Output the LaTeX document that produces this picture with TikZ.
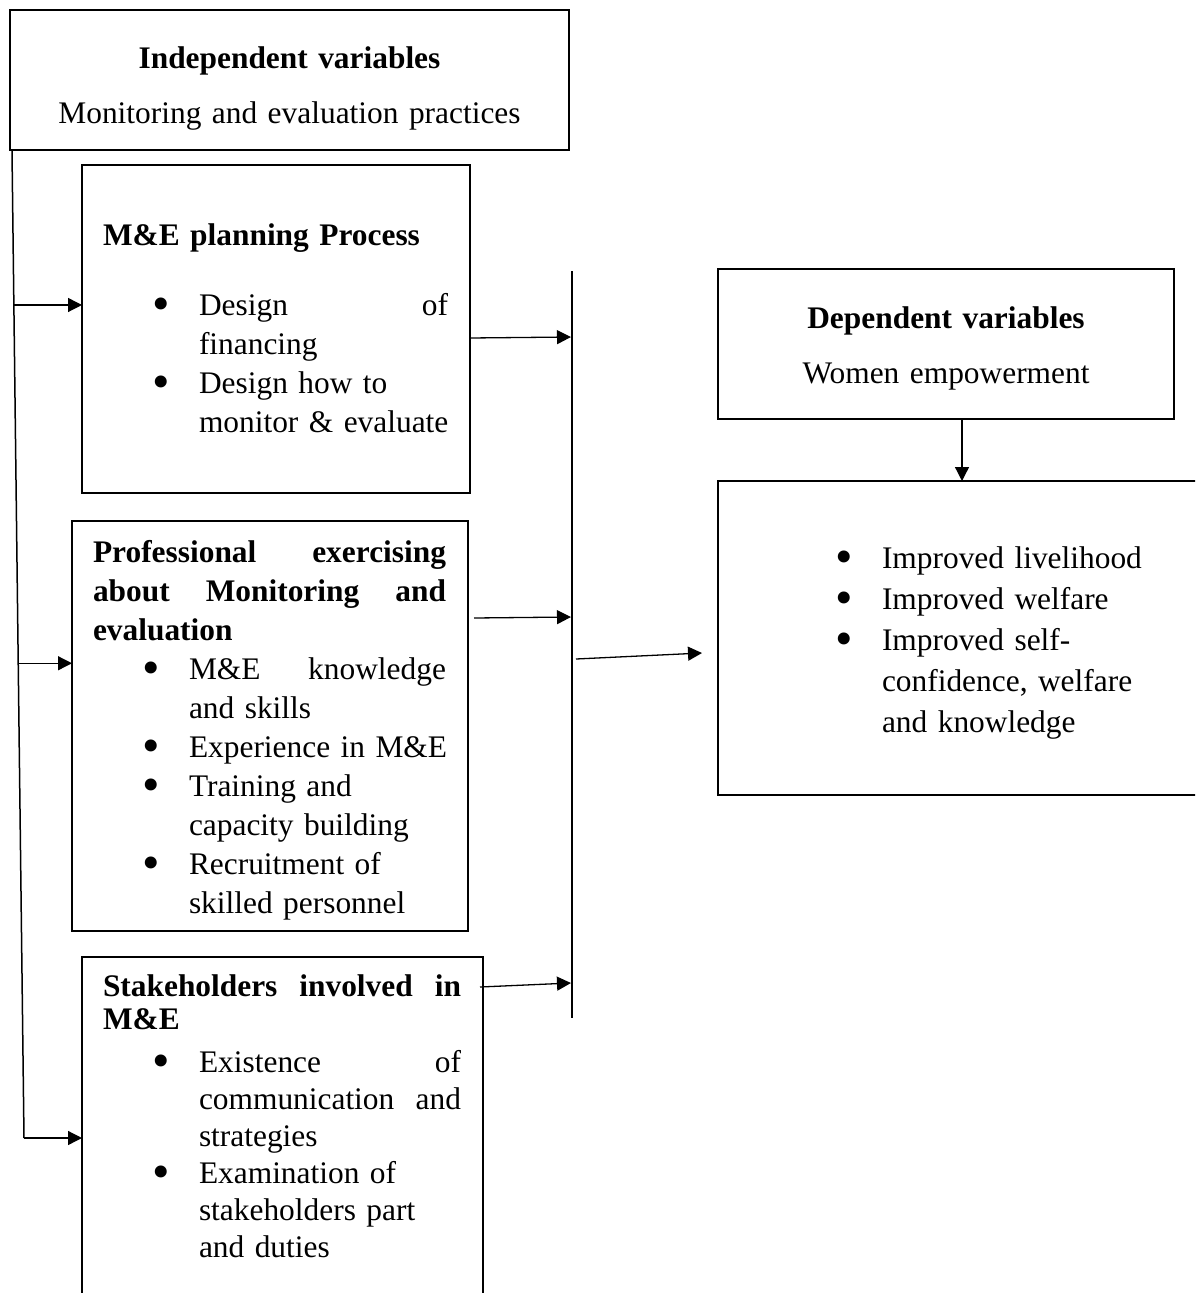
\documentclass[tikz,border=0pt]{standalone}
\usepackage{fontspec}
\setmainfont{Liberation Serif}
\usetikzlibrary{arrows.meta}

% bullet line, continuation line and spread line inside the boxes
\newcommand{\bdot}{\raisebox{-5pt}{\fontsize{50}{39}\selectfont\textbullet}}
\newcommand{\bl}[2][49pt]{\hspace*{#1}\makebox[47pt][l]{\bdot}\mbox{#2}}
\newcommand{\cl}[2][96pt]{\hspace*{#1}\mbox{#2}}
\newcommand{\jl}[2]{\mbox{\hbox to #1{#2}}}

\begin{document}
\begin{tikzpicture}[
  x=1pt, y=-1pt,
  >={Triangle[length=14pt,width=14pt]},
  box/.style={draw, line width=2.3pt, inner xsep=21pt, inner ysep=0pt, outer sep=0pt,
    anchor=north west, align=left, font=\fontsize{31.4}{39}\selectfont},
  link/.style={->, line width=1.3pt},
]
\useasboundingbox (0,0) rectangle (1195,1293);
\clip (0,0) rectangle (1195,1293);

% Independent side
\node[box, align=center, text width=517pt, text height=58pt, text depth=82pt] (indep) at (10,10)
  {{\bfseries Independent variables}\\[16pt]Monitoring and evaluation practices};

\node[box, text width=346pt, text height=80pt, text depth=248pt] (plan) at (82,165)
  {{\bfseries M\&E planning Process}\\[31pt]
   \bl{\jl{249pt}{Design\hfill of}}\\
   \cl{financing}\\
   \bl{Design how to}\\
   \cl{monitor \& evaluate}};

\node[box, text width=354pt, text height=41pt, text depth=369pt] (prof) at (72,521)
  {\jl{353pt}{\bfseries Professional\hfill exercising}\\
   \jl{353pt}{\bfseries about\hfill Monitoring\hfill and}\\
   {\bfseries evaluation}\\
   \bl{\jl{257pt}{M\&E\hfill knowledge}}\\
   \cl{and skills}\\
   \bl{Experience in M\&E}\\
   \bl{Training and}\\
   \cl{capacity building}\\
   \bl{Recruitment of}\\
   \cl{skilled personnel}};

\node[box, font=\fontsize{31.4}{37}\selectfont, text width=359pt, text height=39pt, text depth=324pt] (stake) at (82,957)
  {\jl{358pt}{\bfseries Stakeholders\hfill involved\hfill in}\\[-4pt]
   {\bfseries M\&E}\\[6pt]
   \bl{\jl{262pt}{Existence\hfill of}}\\
   \cl{\jl{262pt}{communication\hfill and}}\\
   \cl{strategies}\\
   \bl{Examination of}\\
   \cl{stakeholders part}\\
   \cl{and duties}};

% Dependent side
\node[box, align=center, text width=414pt, text height=59pt, text depth=91pt] (dep) at (718,269)
  {{\bfseries Dependent variables}\\[16pt]Women empowerment};

\node[box, font=\fontsize{31.4}{41}\selectfont, text width=458pt, text height=87pt, text depth=227pt] (effects) at (718,481)
  {\bl[96pt]{Improved livelihood}\\
   \bl[96pt]{Improved welfare}\\
   \bl[96pt]{Improved self-}\\
   \cl[143pt]{confidence, welfare}\\
   \cl[143pt]{and knowledge}};

% left trunk
\coordinate (trunktop) at (12,151);
\coordinate (trunkbot) at (24,1138);
\draw[line width=1.5pt] (trunktop) -- coordinate[pos=0.156] (t1) coordinate[pos=0.519] (t2) (trunkbot);
\draw[link] (t1) -- (t1 -| plan.west);
\draw[link] (t2) -- (t2 -| prof.west);
\draw[link] (trunkbot) -- (trunkbot -| stake.west);

% middle bar
\coordinate (bartop) at (572,271);
\coordinate (barbot) at (572,1018);
\draw[line width=1.6pt] (bartop) -- (barbot);
\draw[link] (plan.east |- 0,338) -- ([xshift=-1pt]bartop |- 0,337);
\draw[link] ([xshift=6pt]prof.east |- 0,618) -- ([xshift=-1pt]bartop |- 0,617);
\draw[link] ([xshift=-3pt]stake.east |- 0,987) -- ([xshift=-1pt]bartop |- 0,983);
\draw[link] ([xshift=4pt]bartop |- 0,659) -- ([xshift=-16pt]effects.west |- 0,653);

\draw[link] (dep.south -| 962,0) -- (effects.north -| 962,0);
\end{tikzpicture}
\end{document}
